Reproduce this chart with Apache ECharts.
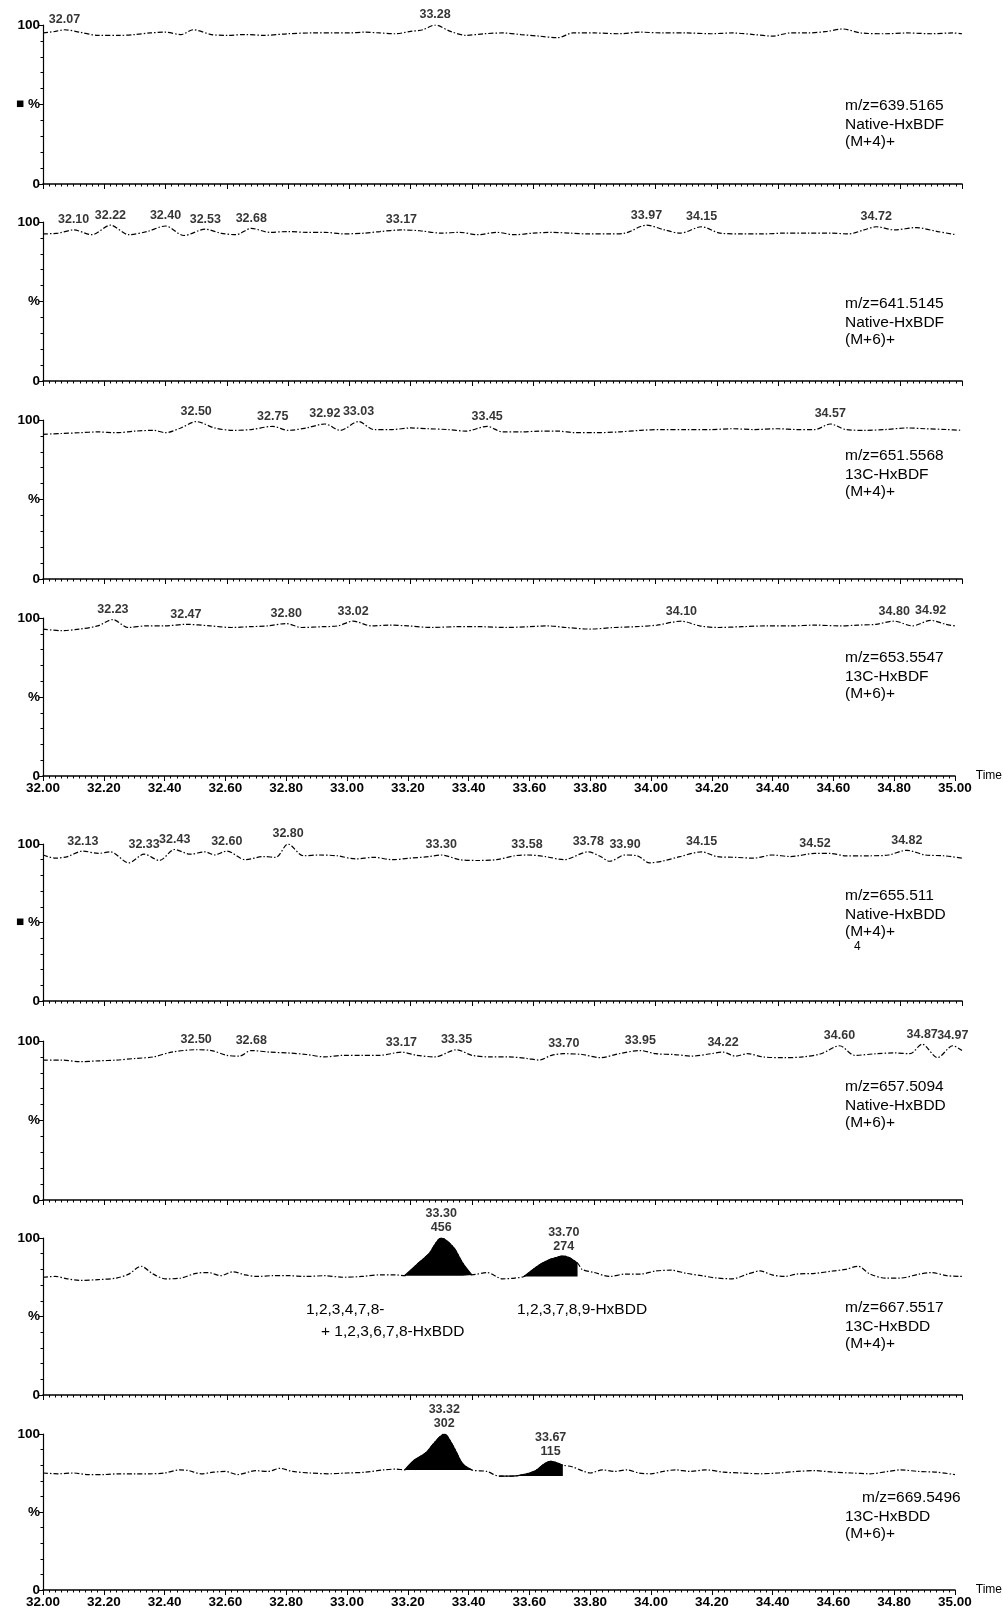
<!DOCTYPE html>
<html><head><meta charset="utf-8">
<script src="https://cdn.jsdelivr.net/npm/echarts@6/dist/echarts.min.js"></script>
<style>html,body{margin:0;padding:0;background:#fff}#c{width:1003px;height:1614px}</style>
</head><body><div id="c"></div>
<script>
// ---------- DATA ----------
const timeMin = 32.00, timeMax = 35.00;

const trace1 = [[32.00,95],[32.04,96],[32.07,97],[32.12,95.5],[32.18,93.5],[32.25,93.5],[32.30,94],[32.35,95],[32.40,95.5],[32.45,94],[32.49,97],[32.55,94],[32.60,93.5],[32.66,94],[32.72,93.5],[32.80,94.5],[32.88,95],[32.95,95],[33.00,95],[33.05,95.5],[33.10,95],[33.15,94.5],[33.20,96],[33.24,97],[33.28,100],[33.33,96],[33.38,93.5],[33.44,94.5],[33.50,95],[33.56,94],[33.62,93],[33.68,92],[33.73,95],[33.80,95],[33.88,94.5],[33.95,95.5],[34.02,95],[34.10,95],[34.18,94.5],[34.25,95],[34.32,94],[34.38,93],[34.44,95],[34.50,95],[34.56,96],[34.61,97.5],[34.67,95],[34.75,94.5],[34.82,95],[34.90,94.5],[34.97,95],[35.00,94.5]];
const peaks1 = [32.07, 33.28];

const trace2 = [[32.00,92.5],[32.05,93],[32.10,95],[32.16,92],[32.22,98],[32.28,92],[32.34,94],[32.40,97.5],[32.46,91.5],[32.53,95.5],[32.58,93],[32.63,92],[32.68,96],[32.74,93.5],[32.80,94],[32.86,93.5],[32.92,93.5],[32.98,92.5],[33.05,93],[33.10,94],[33.17,95],[33.23,94.5],[33.30,93],[33.36,93.5],[33.42,92],[33.48,93.5],[33.54,92],[33.60,93],[33.66,93.5],[33.72,93],[33.78,92.5],[33.85,92.5],[33.90,93],[33.97,98],[34.03,95],[34.08,93],[34.15,97],[34.21,93],[34.28,92.5],[34.35,92.5],[34.42,93],[34.50,93],[34.57,93],[34.63,92.5],[34.68,95],[34.72,97],[34.78,95],[34.85,96.5],[34.92,94],[34.98,92]];
const peaks2 = [32.10, 32.22, 32.40, 32.53, 32.68, 33.17, 33.97, 34.15, 34.72];

const trace3 = [[32.00,91],[32.06,91.5],[32.12,92],[32.18,92.5],[32.24,92],[32.30,93],[32.36,93.5],[32.40,92],[32.45,95],[32.50,99],[32.56,95],[32.62,93.5],[32.68,94],[32.75,96],[32.80,93.5],[32.86,95],[32.92,97.5],[32.97,93.5],[33.03,99],[33.08,94],[33.14,94],[33.20,95],[33.26,94.5],[33.32,94],[33.38,93],[33.45,96],[33.50,92.5],[33.56,92.5],[33.62,93],[33.68,93],[33.74,92],[33.80,92],[33.88,92.5],[33.95,93.5],[34.02,94],[34.10,94],[34.18,94],[34.25,94.5],[34.32,94],[34.40,94.5],[34.46,94],[34.52,94],[34.57,97.5],[34.62,94],[34.68,93.5],[34.75,94],[34.82,95],[34.88,94.5],[34.95,94],[35.00,93.5]];
const peaks3 = [32.50, 32.75, 32.92, 33.03, 33.45, 34.57];

const trace4 = [[32.00,93],[32.06,92],[32.12,93],[32.18,95],[32.23,99],[32.28,94],[32.34,95],[32.40,95],[32.47,96],[32.55,95],[32.62,94],[32.68,94.5],[32.74,95],[32.80,96.5],[32.85,94],[32.92,94.5],[32.97,95],[33.02,98],[33.08,95],[33.14,95.5],[33.20,95],[33.28,94],[33.36,94.5],[33.44,94.5],[33.52,94],[33.60,94.5],[33.66,95],[33.72,94],[33.80,93],[33.88,94],[33.95,94.5],[34.02,95.5],[34.10,98],[34.16,95],[34.22,94],[34.30,94.5],[34.38,95],[34.46,95],[34.54,95.5],[34.62,95],[34.68,95.5],[34.74,96],[34.80,98],[34.86,95],[34.92,98.5],[34.97,96],[35.00,95]];
const peaks4 = [32.23, 32.47, 32.80, 33.02, 34.10, 34.80, 34.92];

const trace5 = [[32.00,93],[32.04,91],[32.08,92],[32.13,95.5],[32.18,94],[32.22,95],[32.28,88],[32.33,93.5],[32.38,89.5],[32.43,96.5],[32.48,93.5],[32.53,95],[32.56,93],[32.60,95.5],[32.66,90],[32.72,92],[32.76,91.5],[32.80,100],[32.85,92.5],[32.90,93],[32.96,92.5],[33.02,90.5],[33.08,91.5],[33.14,90],[33.20,91],[33.26,92],[33.30,93],[33.36,90],[33.42,89.5],[33.48,90],[33.54,92.5],[33.58,93],[33.64,92],[33.70,90],[33.78,95],[33.82,92],[33.85,89],[33.90,93],[33.94,92.5],[33.98,88],[34.02,89],[34.08,92],[34.15,95],[34.20,92],[34.26,91.5],[34.32,91],[34.38,93],[34.44,92],[34.52,94],[34.57,94],[34.62,92.5],[34.70,92.5],[34.76,93],[34.82,96],[34.88,93],[34.94,92.5],[35.00,91]];
const peaks5 = [32.13, 32.33, 32.43, 32.60, 32.80, 33.30, 33.58, 33.78, 33.90, 34.15, 34.52, 34.82];

const trace6 = [[32.00,88],[32.06,88],[32.12,87],[32.18,87.5],[32.24,88],[32.30,89],[32.36,90],[32.42,93],[32.50,94.5],[32.55,94],[32.60,91],[32.64,90.5],[32.68,94],[32.74,93],[32.80,92.5],[32.86,91.5],[32.92,90],[32.98,91],[33.04,91],[33.10,91],[33.17,93],[33.22,91],[33.28,90],[33.35,94.5],[33.40,91],[33.46,90],[33.52,90],[33.58,89],[33.62,88],[33.66,91],[33.70,92],[33.76,91.5],[33.82,89.5],[33.88,92],[33.95,94],[34.00,92],[34.06,91.5],[34.12,90.5],[34.18,92],[34.22,93],[34.26,90.5],[34.30,92],[34.35,90],[34.42,89.5],[34.48,90],[34.54,92],[34.60,97],[34.65,91],[34.72,92],[34.78,92.5],[34.83,92],[34.87,98],[34.92,89.5],[34.97,97],[35.00,94]];
const peaks6 = [32.50, 32.68, 33.17, 33.35, 33.70, 33.95, 34.22, 34.60, 34.87, 34.97];

const trace7 = [[32.00,75],[32.04,75.5],[32.08,74],[32.12,73],[32.18,73.5],[32.24,74.5],[32.28,77],[32.32,82],[32.36,77],[32.40,74],[32.45,74.5],[32.50,77.5],[32.54,78],[32.58,76],[32.62,78.5],[32.66,76.5],[32.70,75.5],[32.75,76],[32.80,76],[32.86,75.5],[32.92,76],[32.98,75],[33.04,75.5],[33.10,76.5],[33.15,76.5],[33.18,76],[33.22,83],[33.26,90],[33.30,100],[33.34,94],[33.37,84],[33.40,76.5],[33.45,78],[33.50,74],[33.54,74.5],[33.57,75.5],[33.60,80],[33.64,85],[33.70,88.5],[33.745,84],[33.76,80],[33.80,78],[33.85,75.5],[33.90,77],[33.95,77],[34.00,79],[34.05,79.5],[34.10,77.5],[34.15,76],[34.20,74.5],[34.25,74],[34.30,77],[34.34,79],[34.38,76.5],[34.42,75.5],[34.46,77],[34.52,77.5],[34.58,79],[34.62,80],[34.66,82],[34.70,77],[34.75,74.5],[34.80,74.5],[34.86,77],[34.90,78],[34.95,76],[35.00,75.5]];
const peaks7 = [33.30, 33.70];
const areas7 = [456, 274];
const peakRanges7 = [[33.18, 33.40], [33.57, 33.745]];

const trace8 = [[32.00,75],[32.05,74.5],[32.10,75],[32.15,74],[32.20,74],[32.25,74.5],[32.30,74.5],[32.35,74.5],[32.40,75],[32.45,77],[32.48,76.5],[32.52,74.5],[32.56,75.5],[32.60,76],[32.64,74],[32.70,76.5],[32.74,76],[32.78,78],[32.82,76],[32.88,75],[32.94,74.5],[33.00,75],[33.06,75.5],[33.12,77],[33.16,77.5],[33.19,77],[33.22,83],[33.26,88],[33.29,95],[33.32,100],[33.35,92],[33.38,81],[33.41,77],[33.46,76],[33.50,73],[33.54,73],[33.58,74],[33.62,76.5],[33.65,81],[33.67,82.5],[33.71,80],[33.74,79],[33.78,76],[33.80,75],[33.84,77],[33.88,76],[33.92,77],[33.96,75],[34.00,74.5],[34.04,76],[34.08,77],[34.13,76],[34.18,77],[34.24,75.5],[34.30,75],[34.36,74.5],[34.42,75],[34.48,76],[34.54,76.5],[34.60,75.5],[34.66,75],[34.72,74.5],[34.78,76],[34.82,77],[34.88,76],[34.94,75.5],[35.00,74]];
const peaks8 = [33.32, 33.67];
const areas8 = [302, 115];
const peakRanges8 = [[33.19, 33.41], [33.50, 33.71]];

const channelLabels = [
  ['m/z=639.5165', 'Native-HxBDF', '(M+4)+'],
  ['m/z=641.5145', 'Native-HxBDF', '(M+6)+'],
  ['m/z=651.5568', '13C-HxBDF', '(M+4)+'],
  ['m/z=653.5547', '13C-HxBDF', '(M+6)+'],
  ['m/z=655.511', 'Native-HxBDD', '(M+4)+'],
  ['m/z=657.5094', 'Native-HxBDD', '(M+6)+'],
  ['m/z=667.5517', '13C-HxBDD', '(M+4)+'],
  ['m/z=669.5496', '13C-HxBDD', '(M+6)+']
];
const compoundLabels7 = ['1,2,3,4,7,8-', '+ 1,2,3,6,7,8-HxBDD', '1,2,3,7,8,9-HxBDD'];
const yTickText = {0: '0', 50: '%', 100: '100'};

// ---------- LAYOUT ----------
const traces = [trace1, trace2, trace3, trace4, trace5, trace6, trace7, trace8];
const peakLists = [peaks1, peaks2, peaks3, peaks4, peaks5, peaks6, peaks7, peaks8];
const areaLists = [null, null, null, null, null, null, areas7, areas8];
const rangeLists = [null, null, null, null, null, null, peakRanges7, peakRanges8];

const tops =    [25, 222, 420, 618, 844, 1041, 1238, 1434];
const bottoms = [184, 381, 579, 776, 1001, 1200, 1395, 1590];
const labelledX = [3, 7];
const squarePct = [0, 4];
const txtTop = [98, 296, 448, 650, 888, 1079, 1300, 1490];
const LH = 17.5;

const FONT = '"Liberation Sans", Arial, sans-serif';
const TXT = '15.5px ' + FONT;

function nearest(trace, t) {
  let best = trace[0];
  for (const p of trace) if (Math.abs(p[0] - t) < Math.abs(best[0] - t)) best = p;
  return best;
}

const grids = [], xAxes = [], yAxes = [], series = [], graphics = [];
for (let i = 0; i < 8; i++) {
  grids.push({left: 43, width: 919, top: tops[i], height: bottoms[i] - tops[i]});
  const showX = labelledX.includes(i);
  xAxes.push({
    type: 'value', gridIndex: i, min: timeMin, max: timeMax, interval: 0.2,
    axisLine: {lineStyle: {color: '#000', width: 1.6}},
    axisTick: {show: true, length: 5, lineStyle: {color: '#000', width: 1}},
    minorTick: {show: true, splitNumber: 10, length: 2.5, lineStyle: {color: '#000', width: 1}},
    splitLine: {show: false},
    axisLabel: {show: showX, formatter: v => v.toFixed(2), color: '#000', fontSize: 13.5, fontFamily: FONT, margin: 5, fontWeight: 'bold'},
    name: showX ? 'Time' : '', nameLocation: 'end', nameGap: 2,
    nameTextStyle: {color: '#000', fontSize: 12, fontFamily: FONT, padding: [0, 0, 9, 0]}
  });
  yAxes.push({
    type: 'value', gridIndex: i, min: 0, max: 100, interval: 50,
    axisLine: {show: true, lineStyle: {color: '#000', width: 1.2}},
    axisTick: {show: true, length: 4, lineStyle: {color: '#000'}},
    minorTick: {show: true, splitNumber: 5, length: 2.5, lineStyle: {color: '#000'}},
    splitLine: {show: false},
    axisLabel: {color: '#000', fontSize: 13.5, fontFamily: FONT, margin: 3, fontWeight: 'bold',
      formatter: v => (v === 50 && squarePct.includes(i)) ? '\u25A0 %' : yTickText[v]}
  });
  const tr = traces[i];
  series.push({
    type: 'line', xAxisIndex: i, yAxisIndex: i, data: tr, showSymbol: false, smooth: 0.3,
    lineStyle: {color: '#000', width: 1.2, type: [5, 2, 1.5, 2]}, silent: true, z: 3
  });
  if (rangeLists[i]) {
    rangeLists[i].forEach(r => {
      const seg = tr.filter(p => p[0] >= r[0] - 1e-9 && p[0] <= r[1] + 1e-9);
      series.push({
        type: 'line', xAxisIndex: i, yAxisIndex: i, data: seg, showSymbol: false, smooth: 0.3,
        lineStyle: {color: '#000', width: 1.2}, areaStyle: {color: '#000', opacity: 1, origin: seg[0][1]},
        silent: true, z: 4
      });
    });
  }
  const areas = areaLists[i];
  series.push({
    type: 'scatter', xAxisIndex: i, yAxisIndex: i, symbolSize: 0, silent: true, z: 5,
    data: peakLists[i].map((t, k) => ({value: nearest(tr, t), t: t, area: areas ? areas[k] : null})),
    label: {show: true, position: 'top', distance: 3, color: '#000', fontSize: 12.5, fontFamily: FONT, fontWeight: 'bold',
      lineHeight: 14,
      formatter: p => p.data.area != null ? p.data.t.toFixed(2) + '\n' + p.data.area : p.data.t.toFixed(2)}
  });
  graphics.push({
    type: 'text', left: (i === 7 ? 862 : 845), top: txtTop[i],
    style: {text: channelLabels[i][0], font: TXT, fill: '#000'}
  });
  graphics.push({
    type: 'text', left: 845, top: txtTop[i] + LH,
    style: {text: channelLabels[i][1] + '\n' + channelLabels[i][2], font: TXT, fill: '#000', lineHeight: LH}
  });
}
graphics.push({type: 'text', left: 854, top: txtTop[4] + 2 * LH + 18, style: {text: '4', font: '12px ' + FONT, fill: '#000'}});
graphics.push({type: 'text', left: 306, top: 1302, style: {text: compoundLabels7[0], font: TXT, fill: '#000'}});
graphics.push({type: 'text', left: 321, top: 1324, style: {text: compoundLabels7[1], font: TXT, fill: '#000'}});
graphics.push({type: 'text', left: 517, top: 1302, style: {text: compoundLabels7[2], font: TXT, fill: '#000'}});

const chart = echarts.init(document.getElementById('c'), null, {renderer: 'canvas'});
chart.setOption({
  backgroundColor: '#fff', animation: false,
  grid: grids, xAxis: xAxes, yAxis: yAxes, series: series, graphic: graphics
});
</script></body></html>
